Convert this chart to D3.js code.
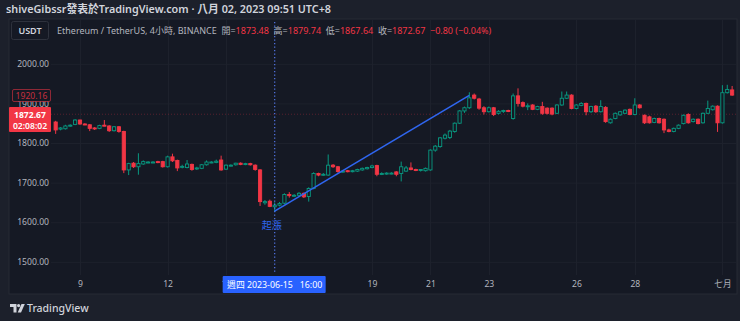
<!DOCTYPE html>
<html>
<head>
<meta charset="utf-8">
<script src="https://cdn.jsdelivr.net/npm/d3@7"></script>
<style>
  html, body { margin: 0; padding: 0; background: #1c202b; }
  svg { display: block; font-family: "Noto Sans", "Noto Sans CJK TC", sans-serif; }
</style>
</head>
<body>
<script>
// Data: ETH/USDT 4h candles from 2023-06-08 04:00 (UTC+8)
const opens  = [1853,1835,1836,1843,1847,1858,1848,1846,1838,1837,1845,1843,1831,1841,1829,1732,1749,1740,1747,1751,
                1751,1753,1753,1740,1765,1756,1739,1738,1746,1735,1736,1745,1751,1751,1757,1734,1743,1745,1749,1746,
                1748,1744,1732,1649,1653,1639,1643,1648,1670,1667,1668,1673,1665,1685,1723,1719,1719,1744,1740,1728,
                1730,1728,1729,1732,1735,1738,1743,1721,1723,1723,1727,1723,1729,1737,1733,1731,1730,1732,1782,1791,
                1812,1814,1829,1850,1881,1889,1921,1911,1889,1879,1889,1875,1880,1882,1862,1919,1902,1893,1896,1885,
                1892,1888,1888,1875,1896,1913,1921,1887,1895,1900,1879,1893,1879,1890,1851,1862,1871,1875,1885,1872,
                1896,1870,1866,1852,1862,1860,1833,1829,1837,1849,1872,1854,1860,1851,1875,1884,1893,1851,1927,1934];
const highs  = [1856,1840,1846,1847,1860,1859,1850,1848,1840,1846,1858,1845,1843,1843,1831,1750,1752,1774,1756,1754,
                1754,1755,1755,1768,1773,1758,1745,1757,1748,1740,1747,1756,1754,1758,1768,1746,1746,1750,1751,1750,
                1750,1746,1734,1656,1657,1650,1651,1673,1676,1671,1676,1675,1688,1726,1725,1724,1771,1747,1742,1732,
                1732,1732,1735,1738,1740,1745,1745,1726,1726,1726,1729,1753,1742,1751,1735,1734,1738,1784,1795,1815,
                1824,1833,1852,1883,1892,1928,1925,1914,1893,1892,1891,1883,1884,1884,1925,1938,1905,1900,1898,1894,
                1904,1890,1890,1898,1930,1930,1923,1898,1903,1902,1894,1896,1908,1893,1862,1877,1881,1885,1887,1913,
                1898,1872,1869,1864,1864,1862,1836,1839,1847,1872,1875,1862,1862,1877,1907,1895,1895,1946,1947,1944];
const lows   = [1823,1832,1834,1841,1845,1846,1845,1830,1833,1835,1842,1828,1829,1826,1724,1719,1737,1720,1745,1749,
                1749,1749,1738,1738,1752,1729,1736,1736,1730,1732,1734,1743,1749,1749,1730,1732,1741,1743,1744,1744,
                1743,1730,1641,1644,1638,1626,1640,1645,1662,1664,1665,1661,1652,1683,1716,1717,1717,1737,1725,1725,
                1726,1726,1727,1730,1733,1736,1716,1719,1720,1721,1716,1703,1727,1731,1729,1728,1728,1730,1778,1788,
                1809,1810,1826,1848,1876,1886,1910,1884,1872,1877,1868,1872,1876,1878,1859,1892,1890,1883,1883,1883,
                1871,1872,1870,1873,1894,1911,1885,1885,1893,1870,1876,1876,1877,1851,1849,1860,1869,1873,1870,1870,
                1887,1848,1849,1850,1849,1825,1827,1827,1835,1847,1849,1852,1847,1849,1873,1882,1828,1849,1925,1919];
const closes = [1833,1838,1843,1845,1858,1848,1847,1837,1837,1844,1844,1831,1841,1829,1732,1748,1740,1748,1753,1752,
                1752,1751,1740,1765,1755,1737,1741,1747,1733,1737,1745,1752,1752,1754,1732,1744,1744,1749,1746,1748,
                1745,1733,1652,1652,1640,1643,1647,1670,1667,1668,1673,1664,1685,1723,1719,1721,1744,1740,1728,1729,
                1728,1730,1733,1736,1738,1742,1721,1723,1724,1724,1721,1740,1737,1733,1731,1733,1736,1782,1792,1813,
                1820,1830,1850,1881,1889,1914,1913,1888,1879,1889,1872,1880,1882,1880,1919,1900,1893,1894,1885,1892,
                1875,1875,1873,1896,1913,1921,1887,1896,1900,1879,1892,1879,1892,1854,1860,1875,1879,1883,1872,1896,
                1889,1851,1851,1862,1851,1833,1829,1837,1845,1870,1851,1860,1849,1875,1887,1893,1851,1927,1935,1921];

const priceTicks = [1500, 1600, 1700, 1800, 1900, 2000];
const dateTicks = ["2023-06-09", "2023-06-12", "2023-06-14", "2023-06-19",
                   "2023-06-21", "2023-06-23", "2023-06-26", "2023-06-28", "2023-07-01"];
const dateTickLabels = ["9", "12", "14", "19", "21", "23", "26", "28", "七月"];

const lastPrice = 1872.67;
const trendStart = { i: 45, price: 1628 };
const trendEnd = { i: 85, price: 1920.16 };

// Dimensions
const width = 740, height = 321;
const pane = { left: 9, right: 737, top: 19, bottom: 294 };
const plotLeft = 51;

const parseDay = s => { const p = s.split("-").map(Number); return new Date(p[0], p[1] - 1, p[2]); };
const start = new Date(2023, 5, 8, 4);
const stepMs = 4 * 3600 * 1000;
const times = opens.map((d, i) => new Date(+start + i * stepMs));

const candles = opens.map((o, i) => ({ t: times[i], o, h: highs[i], l: lows[i], c: closes[i] }));

const x = d3.scaleTime()
    .domain([new Date(2023, 5, 9), new Date(2023, 6, 1)])
    .range([80, 722.4]);
const y = d3.scaleLinear()
    .domain([1500, 2000])
    .range([261.8, 63.8]);

const up = "#089981", down = "#f23645", paneBg = "#151924";

const svg = d3.select("body")
    .append("svg")
    .attr("width", width)
    .attr("height", height);

svg.append("rect").attr("width", width).attr("height", height).attr("fill", "#1c202b");
svg.append("rect")
    .attr("x", pane.left).attr("y", pane.top)
    .attr("width", pane.right - pane.left).attr("height", pane.bottom - pane.top)
    .attr("fill", paneBg).attr("stroke", "#262a35");

// Title
svg.append("text")
    .attr("x", 6).attr("y", 13)
    .attr("font-size", 10.8).attr("font-weight", 600).attr("fill", "#d1d4dc")
    .text("shiveGibssr發表於TradingView.com · 八月 02, 2023 09:51 UTC+8");

// Clip for plot
svg.append("clipPath").attr("id", "plot")
    .append("rect").attr("x", plotLeft).attr("y", pane.top + 1)
    .attr("width", pane.right - plotLeft - 1).attr("height", 255);

// Grid
const grid = svg.append("g").attr("clip-path", "url(#plot)");
grid.selectAll(".hg").data(priceTicks).enter().append("line")
    .attr("x1", plotLeft).attr("x2", pane.right)
    .attr("y1", d => y(d) + 0.5).attr("y2", d => y(d) + 0.5)
    .attr("stroke", "#1d212c");
grid.selectAll(".vg").data(dateTicks).enter().append("line")
    .attr("x1", d => Math.round(x(parseDay(d))) + 0.5).attr("x2", d => Math.round(x(parseDay(d))) + 0.5)
    .attr("y1", pane.top).attr("y2", 275)
    .attr("stroke", "#1d212c");

// Current price line
grid.append("line")
    .attr("x1", plotLeft).attr("x2", pane.right)
    .attr("y1", y(lastPrice)).attr("y2", y(lastPrice))
    .attr("stroke", "#f23645").attr("stroke-opacity", 0.3)
    .attr("stroke-dasharray", "1,2");

// Candles
const bw = 3.2;
const cg = svg.append("g").attr("clip-path", "url(#plot)");
const candle = cg.selectAll("g.c").data(candles).enter().append("g");
candle.append("line")
    .attr("x1", d => x(d.t)).attr("x2", d => x(d.t))
    .attr("y1", d => y(d.h)).attr("y2", d => y(d.l))
    .attr("stroke", d => d.c >= d.o ? up : down).attr("stroke-width", 1);
candle.append("rect")
    .attr("x", d => x(d.t) - bw / 2)
    .attr("y", d => y(Math.max(d.o, d.c)))
    .attr("width", bw)
    .attr("height", d => Math.max(1, Math.abs(y(d.o) - y(d.c))))
    .attr("fill", d => d.c >= d.o ? paneBg : down)
    .attr("stroke", d => d.c >= d.o ? up : down)
    .attr("stroke-width", 0.9);

// Crosshair vertical
const crossTime = new Date(2023, 5, 15, 16);
svg.append("line")
    .attr("x1", x(crossTime)).attr("x2", x(crossTime))
    .attr("y1", 22).attr("y2", 274)
    .attr("stroke", "#4f6fd9").attr("stroke-width", 1.3)
    .attr("stroke-dasharray", "1.3,2.2");

// Trend line
svg.append("line")
    .attr("x1", x(times[trendStart.i])).attr("y1", y(trendStart.price))
    .attr("x2", x(times[trendEnd.i])).attr("y2", y(trendEnd.price))
    .attr("stroke", "#2f66f0").attr("stroke-width", 1.6);
svg.append("text")
    .attr("x", x(times[trendStart.i]) - 3).attr("y", y(trendStart.price) + 18)
    .attr("text-anchor", "middle").attr("font-size", 10).attr("fill", "#2f66f0")
    .text("起漲");

// Left price axis
const yAxis = svg.append("g")
    .attr("transform", "translate(49,0)")
    .call(d3.axisLeft(y).tickValues(priceTicks).tickFormat(d3.format(".2f")).tickSize(0).tickPadding(0));
yAxis.select(".domain").remove();
yAxis.selectAll("text").attr("fill", "#b2b5be").attr("font-size", 8.6)
    .attr("font-family", "Noto Sans, sans-serif");

// Trend line price label
const tl = svg.append("g");
tl.append("rect").attr("x", 12.5).attr("y", 89.5).attr("width", 38).attr("height", 12)
    .attr("fill", paneBg).attr("stroke", "#f23645").attr("stroke-opacity", 0.55).attr("rx", 1.5);
tl.append("text").attr("x", 31.5).attr("y", y(trendEnd.price) + 3.2).attr("text-anchor", "middle")
    .attr("font-size", 8.6).attr("fill", "#f23645").attr("fill-opacity", 0.8)
    .text(d3.format(".2f")(trendEnd.price));

// Current price label
const cp = svg.append("g");
cp.append("rect").attr("x", 9).attr("y", 107).attr("width", 42).attr("height", 25)
    .attr("fill", "#f23645").attr("rx", 1);
cp.append("text").attr("x", 30).attr("y", 117.5).attr("text-anchor", "middle")
    .attr("font-size", 8.6).attr("font-weight", 700).attr("fill", "#ffffff")
    .text(d3.format(".2f")(lastPrice));
cp.append("text").attr("x", 30).attr("y", 128.5).attr("text-anchor", "middle")
    .attr("font-size", 8.6).attr("font-weight", 600).attr("fill", "#ffffff")
    .text("02:08:02");

// Time axis
const xAxis = svg.append("g")
    .attr("transform", "translate(0,281)")
    .call(d3.axisBottom(x).tickValues(dateTicks.map(parseDay))
        .tickFormat((d, i) => dateTickLabels[i]).tickSize(0).tickPadding(0));
xAxis.select(".domain").remove();
xAxis.selectAll("text").attr("fill", "#b2b5be").attr("font-size", 8.6)
    .attr("font-family", "Noto Sans, Noto Sans CJK TC, sans-serif");

// Crosshair time label
const cx = x(crossTime);
svg.append("rect").attr("x", cx - 52).attr("y", 276).attr("width", 103).attr("height", 17)
    .attr("fill", "#2962ff").attr("rx", 1);
svg.append("text").attr("x", cx).attr("y", 288).attr("text-anchor", "middle")
    .attr("font-size", 8.8).attr("fill", "#ffffff").attr("xml:space", "preserve")
    .text("週四 2023-06-15   16:00");

// Symbol box and legend
svg.append("rect").attr("x", 11.5).attr("y", 21.5).attr("width", 37).attr("height", 18)
    .attr("fill", paneBg).attr("stroke", "#2e323d").attr("rx", 2);
svg.append("text").attr("x", 30).attr("y", 34).attr("text-anchor", "middle")
    .attr("font-size", 9).attr("font-weight", 600).attr("fill", "#d1d4dc").text("USDT");

const legend = svg.append("text").attr("x", 57).attr("y", 34).attr("font-size", 9).attr("xml:space", "preserve");
legend.append("tspan").attr("fill", "#b2b5be").text("Ethereum / TetherUS, 4小時, BINANCE  ");
const ohlcLabels = ["開=", "高=", "低=", "收="];
const ohlcValues = [1873.48, 1879.74, 1867.64, lastPrice];
ohlcLabels.forEach((lab, i) => {
  legend.append("tspan").attr("fill", "#b2b5be").text(lab);
  legend.append("tspan").attr("fill", "#f23645").text(d3.format(".2f")(ohlcValues[i]) + "  ");
});
legend.append("tspan").attr("fill", "#f23645").text("−0.80 (−0.04%)");

// Footer logo
const logo = svg.append("g").attr("fill", "#d1d4dc");
logo.append("path").attr("d", "M10 304h6.5v8.5h-3v-5.5h-3.5z");
logo.append("circle").attr("cx", 18.6).attr("cy", 305.6).attr("r", 1.6);
logo.append("path").attr("d", "M21.5 304h3.3l-3.8 8.5h-3.3z");
svg.append("text").attr("x", 27).attr("y", 312).attr("font-size", 10.5).attr("font-weight", 500)
    .attr("fill", "#d1d4dc").text("TradingView");
</script>
</body>
</html>
